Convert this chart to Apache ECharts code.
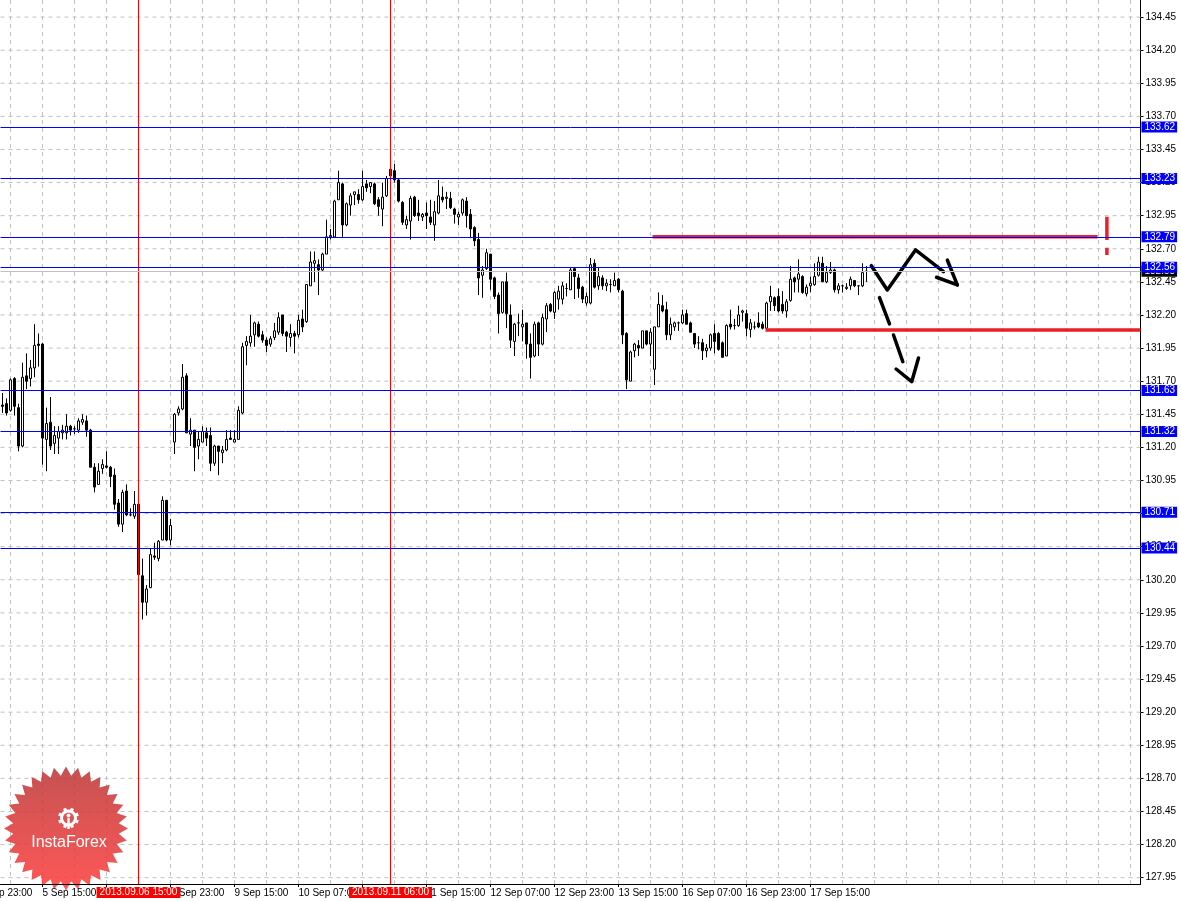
<!DOCTYPE html>
<html><head><meta charset="utf-8">
<script src="https://cdn.jsdelivr.net/npm/echarts@6/dist/echarts.min.js"></script>
<style>html,body{margin:0;padding:0;background:#fff}#c{width:1181px;height:901px}</style>
</head><body><div id="c"></div>
<script>
// ---- DATA (EUR/JPY H1) ----
const opens = [
131.52,131.53,131.48,131.72,131.50,131.21,131.74,131.72,131.80,131.98,
131.98,131.26,131.39,131.23,131.27,131.31,131.31,131.36,131.34,131.33,
131.39,131.40,131.33,131.05,130.92,131.04,131.06,131.05,130.99,130.78,
130.62,130.87,130.69,130.68,130.77,130.23,130.03,130.14,130.38,130.36,
130.50,130.80,130.50,131.24,131.46,131.49,131.74,131.30,131.33,131.21,
131.24,131.31,131.29,131.08,131.21,131.16,131.18,131.27,131.24,131.26,
131.46,131.97,131.99,132.05,132.13,132.05,132.01,131.98,132.03,132.07,
132.20,132.07,132.03,132.06,132.05,132.17,132.15,132.42,132.59,132.58,
132.54,132.66,132.79,132.79,133.07,133.19,132.88,133.03,133.11,133.11,
133.07,133.19,133.17,133.19,133.07,133.00,133.10,133.30,133.29,133.22,
133.05,132.88,132.91,133.09,132.97,132.94,132.97,132.94,132.88,132.97,
133.09,133.08,133.08,133.00,132.94,132.97,133.06,132.96,132.86,132.77,
132.50,132.55,132.66,132.48,132.35,132.22,132.45,132.20,132.00,132.14,
132.11,132.14,131.98,131.89,132.14,131.98,132.17,132.28,132.22,132.32,
132.32,132.40,132.39,132.55,132.48,132.41,132.29,132.29,132.59,132.42,
132.48,132.42,132.43,132.42,132.47,132.38,132.06,131.70,131.93,131.97,
131.95,132.08,131.98,131.79,132.11,132.27,132.24,132.05,132.11,132.14,
132.14,132.21,132.14,132.06,131.99,131.99,131.93,131.95,132.06,132.06,
131.99,131.89,132.13,132.12,132.12,132.22,132.21,132.09,132.11,132.14,
132.13,132.10,132.30,132.33,132.34,132.28,132.23,132.31,132.48,132.47,
132.49,132.36,132.42,132.43,132.50,132.59,132.45,132.52,132.54,132.39,
132.42,132.40,132.42,132.46,132.42,132.42,132.53];
const highs = [
131.61,131.57,131.72,131.73,131.53,131.84,131.91,131.86,132.13,132.06,
131.99,131.50,131.58,131.36,131.36,131.37,131.45,131.37,131.36,131.42,
131.45,131.44,131.34,131.08,131.08,131.11,131.17,131.06,131.04,130.81,
130.88,130.92,130.74,130.87,130.78,130.36,130.16,130.44,130.48,130.50,
130.83,130.80,130.66,131.46,131.51,131.83,131.76,131.42,131.33,131.32,
131.36,131.35,131.35,131.22,131.21,131.21,131.33,131.33,131.33,131.51,
131.99,132.04,132.20,132.15,132.15,132.08,132.03,132.04,132.14,132.22,
132.20,132.08,132.13,132.08,132.20,132.24,132.43,132.68,132.68,132.62,
132.67,132.92,132.85,133.07,133.29,133.20,133.05,133.12,133.13,133.15,
133.29,133.22,133.20,133.20,133.09,133.20,133.25,133.35,133.34,133.23,
133.06,132.95,133.10,133.10,133.07,132.97,133.05,133.07,133.06,133.22,
133.17,133.13,133.13,133.01,132.98,133.08,133.09,133.00,132.87,132.82,
132.57,132.70,132.66,132.49,132.37,132.45,132.52,132.28,132.14,132.21,
132.24,132.14,132.06,132.15,132.15,132.21,132.29,132.29,132.38,132.42,
132.45,132.44,132.56,132.56,132.51,132.42,132.37,132.63,132.62,132.56,
132.50,132.47,132.47,132.52,132.48,132.39,132.07,131.93,131.99,132.01,
132.08,132.08,132.10,132.11,132.37,132.35,132.30,132.18,132.15,132.15,
132.24,132.24,132.15,132.06,132.04,132.02,131.98,132.06,132.13,132.07,
132.00,132.13,132.24,132.17,132.27,132.24,132.24,132.17,132.15,132.22,
132.15,132.30,132.42,132.34,132.40,132.38,132.32,132.57,132.49,132.62,
132.50,132.43,132.49,132.59,132.64,132.64,132.57,132.60,132.55,132.44,
132.43,132.44,132.49,132.46,132.42,132.59,132.57];
const lows = [
131.46,131.44,131.47,131.44,131.17,131.20,131.64,131.66,131.73,131.81,
131.07,131.02,131.18,131.15,131.15,131.26,131.26,131.29,131.30,131.31,
131.37,131.28,131.05,130.86,130.92,131.00,131.04,130.90,130.73,130.60,
130.56,130.68,130.68,130.66,130.24,129.90,129.93,130.14,130.35,130.34,
130.50,130.49,130.46,131.15,131.44,131.48,131.31,131.21,131.02,131.11,
131.24,131.21,131.02,131.06,130.99,131.08,131.17,131.26,131.24,131.26,
131.45,131.82,131.96,131.96,132.03,131.99,131.92,131.96,132.01,132.05,
132.04,131.92,131.96,131.91,132.03,132.07,132.14,132.42,132.45,132.35,
132.53,132.66,132.77,132.79,133.07,132.79,132.87,132.95,133.03,133.04,
133.06,133.13,133.12,133.03,132.95,132.87,133.09,133.24,133.20,133.05,
132.88,132.85,132.77,132.94,132.91,132.91,132.85,132.88,132.76,132.96,
133.05,133.00,133.00,132.89,132.88,132.95,132.86,132.78,132.72,132.35,
132.33,132.54,132.39,132.32,132.06,132.21,132.10,131.95,131.89,132.04,
132.00,131.87,131.72,131.88,131.89,131.97,132.07,132.22,132.17,132.24,
132.28,132.34,132.39,132.32,132.33,132.29,132.27,132.28,132.40,132.39,
132.39,132.38,132.37,132.42,132.37,131.98,131.64,131.70,131.88,131.89,
131.95,131.97,131.89,131.67,132.11,132.22,132.01,132.01,132.08,132.08,
132.13,132.13,132.07,131.95,131.94,131.86,131.88,131.93,131.91,131.93,
131.88,131.89,132.09,132.09,132.11,132.15,132.04,132.03,132.09,132.10,
132.09,132.09,132.23,132.23,132.22,132.21,132.18,132.30,132.37,132.37,
132.36,132.34,132.37,132.42,132.49,132.45,132.44,132.51,132.37,132.36,
132.37,132.39,132.39,132.41,132.35,132.41,132.45];
const closes = [
131.51,131.46,131.71,131.51,131.21,131.73,131.70,131.80,131.97,131.97,
131.27,131.38,131.21,131.29,131.32,131.33,131.36,131.33,131.34,131.40,
131.41,131.33,131.05,130.90,131.02,131.07,131.05,130.98,130.77,130.62,
130.86,130.69,130.69,130.77,130.24,130.03,130.13,130.39,130.37,130.49,
130.80,130.50,130.61,131.45,131.49,131.73,131.31,131.33,131.20,131.26,
131.32,131.27,131.08,131.21,131.17,131.18,131.26,131.26,131.26,131.48,
131.96,132.00,132.04,132.14,132.04,132.01,131.97,132.02,132.08,132.18,
132.06,132.04,132.06,132.04,132.16,132.11,132.43,132.60,132.61,132.54,
132.66,132.79,132.80,133.06,133.20,132.88,133.04,133.10,133.13,133.07,
133.17,133.16,133.20,133.04,133.02,133.09,133.23,133.25,133.22,133.06,
132.90,132.92,133.08,132.95,132.95,132.96,132.95,132.90,132.98,133.10,
133.07,133.09,133.01,132.96,132.96,133.07,132.95,132.85,132.76,132.48,
132.54,132.67,132.47,132.34,132.21,132.45,132.21,132.01,132.13,132.14,
132.13,131.98,131.88,132.13,131.98,132.18,132.27,132.23,132.37,132.38,
132.42,132.40,132.54,132.49,132.40,132.32,132.34,132.58,132.41,132.49,
132.42,132.44,132.43,132.46,132.39,132.05,131.71,131.92,131.98,131.95,
132.08,131.98,132.07,132.11,132.28,132.23,132.05,132.13,132.14,132.14,
132.20,132.13,132.07,131.98,131.99,131.93,131.95,132.05,132.00,131.94,
131.88,132.12,132.11,132.12,132.20,132.23,132.10,132.14,132.11,132.11,
132.10,132.29,132.34,132.27,132.23,132.23,132.30,132.47,132.45,132.51,
132.37,132.41,132.44,132.49,132.60,132.45,132.52,132.54,132.39,132.42,
132.42,132.41,132.47,132.42,132.42,132.52,132.53];

// horizontal levels (blue) and bid
const levels = [133.62, 133.23, 132.79, 132.56, 131.63, 131.32, 130.71, 130.44];
const bidPrice = 132.53;
// vertical markers (bar index and label)
const vMarkers = [{idx: 34, label: '2013.09.06 15:00'}, {idx: 97, label: '2013.09.11 06:00'}];
// tick labels
const xTickLabels = ['5 Sep 15:00','6 Sep 07:00','6 Sep 23:00','9 Sep 15:00','10 Sep 07:00','10 Sep 23:00',
  '11 Sep 15:00','12 Sep 07:00','12 Sep 23:00','13 Sep 15:00','16 Sep 07:00','16 Sep 23:00','17 Sep 15:00'];
const yTickValues = [127.95,128.20,128.45,128.70,128.95,129.20,129.45,129.70,129.95,130.20,130.45,130.70,
  130.95,131.20,131.45,131.70,131.95,132.20,132.45,132.70,132.95,133.20,133.45,133.70,133.95,134.20,134.45];
// drawn annotations (x = bar index, y = price)
const redSegments = [
  [[162.5,132.79],[273.75,132.79]],
  [[190.75,132.087],[284.5,132.087]],
  [[276.1,132.942],[276.1,132.766]],
  [[276.1,132.708],[276.1,132.653]]
];
const blackStrokes = [
  [[217.2,132.572],[221.2,132.389],[228.25,132.691],[235.25,132.527]],
  [[236.2,132.615],[238.7,132.427]],
  [[233.5,132.485],[238.7,132.427]],
  [[219.25,132.331],[221.75,132.132]],
  [[222.75,132.049],[225.08,131.847]],
  [[223.4,131.792],[227.3,131.696],[229.0,131.875]]
];

// ---- build ----
const FONT = "'Liberation Sans', Arial, sans-serif";
const FS = 10;
const Y_MIN = 127.902, Y_MAX = 134.579;
const TOTAL = 285;
const MONTHS = ['Jan','Feb','Mar','Apr','May','Jun','Jul','Aug','Sep','Oct','Nov','Dec'];
const categories = [];
{
  let t = Date.UTC(2013, 8, 5, 5);
  while (categories.length < TOTAL) {
    const d = new Date(t);
    const wd = d.getUTCDay();
    if (wd !== 0 && wd !== 6) categories.push(d.getUTCDate() + ' ' + MONTHS[d.getUTCMonth()] + ' ' + String(d.getUTCHours()).padStart(2, '0') + ':00');
    t += 3600000;
  }
}
const X_LO = -0.5, X_HI = TOTAL - 0.5;
const candleData = opens.map((o, i) => [o, closes[i], lows[i], highs[i]]);
const isTick = (i, v) => xTickLabels.indexOf(v) >= 0;

// grid lines drawn through the axes' scales (vertical every 8 bars, horizontal at tick values)
const vGridData = [];
for (let i = 2; i < TOTAL; i += 8) { vGridData.push([i, Y_MIN], [i, Y_MAX], [i, '-']); }
const hGridData = [];
yTickValues.forEach(v => { hGridData.push([X_LO, v], [X_HI, v], [X_HI, '-']); });
const gridStyle = {color: '#c0c0c0', type: [4, 4], width: 1};

const lineSeries = (data, style, z) => ({type: 'line', xAxisIndex: 1, yAxisIndex: 0, data: data, symbol: 'none', silent: true,
  z: z, lineStyle: style, connectNulls: false, animation: false});

const boxLabel = (txt, bg) => ({show: true, position: 'end', distance: 1, formatter: () => txt, color: '#fff', backgroundColor: bg,
  fontSize: FS, fontFamily: FONT, padding: [0, 2, 0, 3], lineHeight: 11});

const series = [
  lineSeries(vGridData, gridStyle, 1),
  lineSeries(hGridData, gridStyle, 1),
  {
    type: 'candlestick', name: 'EURJPY', data: candleData, barWidth: 2,
    itemStyle: {color: '#ffffff', color0: '#000000', borderColor: '#000000', borderColor0: '#000000', borderWidth: 1},
    silent: true, z: 2,
    markLine: {
      silent: true, symbol: ['none', 'none'], animation: false,
      data: [
        {yAxis: bidPrice, lineStyle: {color: '#c0c0c0', width: 1, type: 'solid'}, label: boxLabel(bidPrice.toFixed(2), '#000')},
        ...levels.map(v => ({yAxis: v, lineStyle: {color: '#0000ff', width: 1, type: 'solid'}, label: boxLabel(v.toFixed(2), '#0000ff')}))
      ]
    }
  },
  ...vMarkers.map(m => lineSeries([[m.idx, Y_MIN], [m.idx, Y_MAX]], {color: '#ff0000', width: 1}, 3)),
  ...redSegments.map(seg => lineSeries(seg, {color: '#ea1f27', width: 3.5, cap: 'butt'}, 4)),
  ...blackStrokes.map(seg => lineSeries(seg, {color: '#000000', width: 3.5, cap: 'round', join: 'round'}, 4))
];

const chart = echarts.init(document.getElementById('c'), null, {renderer: 'canvas'});
const option = {
  animation: false,
  backgroundColor: '#ffffff',
  grid: {left: 0.5, right: 40.5, top: 0, bottom: 17, containLabel: false, outerBoundsMode: 'none'},
  xAxis: [
    {type: 'category', data: categories, boundaryGap: true, z: 10,
     axisLine: {show: true, onZero: false, lineStyle: {color: '#000', width: 1}},
     axisTick: {show: true, alignWithLabel: true, length: 3, interval: isTick, lineStyle: {color: '#000'}},
     axisLabel: {show: true, interval: isTick, align: 'left', margin: 4, color: '#000', fontSize: FS, fontFamily: FONT,
                 showMinLabel: true, showMaxLabel: true, hideOverlap: false},
     splitLine: {show: false}},
    {type: 'value', min: X_LO, max: X_HI, position: 'top', show: false,
     axisLine: {show: false}, axisTick: {show: false}, axisLabel: {show: false}, splitLine: {show: false}}
  ],
  yAxis: [
    {type: 'value', position: 'right', min: Y_MIN, max: Y_MAX,
     axisLine: {show: true, onZero: false, lineStyle: {color: '#000', width: 1}},
     axisTick: {show: true, inside: false, length: 3, customValues: yTickValues, lineStyle: {color: '#000'}},
     axisLabel: {show: true, customValues: yTickValues, formatter: v => v.toFixed(2), margin: 5, color: '#000', fontSize: FS, fontFamily: FONT},
     splitLine: {show: false}}
  ],
  series: series
};
chart.setOption(option);

// ---- logo, marker labels & off-axis label ----
const cx = 66, cy = 828.5;
const star = [];
for (let k = 0; k < 64; k++) {
  const a = -Math.PI / 2 + k * Math.PI / 32;
  const r = (k % 2 === 0) ? 62 : 53;
  star.push([cx + r * Math.cos(a), cy + r * Math.sin(a)]);
}
const gx = 68.5, gy = 818;
const teeth = [];
for (let j = 0; j < 8; j++) {
  const a = j * Math.PI / 4 + Math.PI / 8;
  teeth.push({type: 'line', z: 6, shape: {x1: gx + 6 * Math.cos(a), y1: gy + 6 * Math.sin(a), x2: gx + 10.5 * Math.cos(a), y2: gy + 10.5 * Math.sin(a)},
    style: {stroke: '#fff', lineWidth: 3.2}});
}
const axisY = chart.convertToPixel({yAxisIndex: 0}, Y_MIN);
const fontStr = FS + 'px ' + FONT;
const markerLabels = vMarkers.map(m => ({
  type: 'text', z: 12,
  style: {x: chart.convertToPixel({xAxisIndex: 1}, m.idx), y: axisY + 3, text: m.label, fill: '#fff', font: fontStr,
          align: 'center', verticalAlign: 'top', backgroundColor: '#ff0000', padding: [0, 3, 0, 3], lineHeight: 11}
}));
chart.setOption({
  graphic: [
    {type: 'polygon', z: 5, shape: {points: star},
     style: {fill: new echarts.graphic.LinearGradient(0, 0, 0, 1, [{offset: 0, color: '#bd3a3a'}, {offset: 1, color: '#ff4040'}]), opacity: 0.88}},
    {type: 'ring', z: 6, shape: {cx: gx, cy: gy, r: 8.5, r0: 5.5}, style: {fill: '#fff'}},
    ...teeth,
    {type: 'circle', z: 7, shape: {cx: gx, cy: gy - 2.5, r: 2}, style: {fill: '#fff'}},
    {type: 'rect', z: 7, shape: {x: gx - 1.2, y: gy, width: 2.4, height: 11}, style: {fill: '#fff'}},
    {type: 'text', z: 7, style: {x: 69, y: 843, text: 'InstaForex', fill: '#fff', font: "16px 'Liberation Sans', Arial, sans-serif", align: 'center', verticalAlign: 'middle'}},
    {type: 'text', z: 11, style: {x: chart.convertToPixel({xAxisIndex: 1}, -6), y: axisY + 4, text: '4 Sep 23:00', fill: '#000', font: fontStr, align: 'left', verticalAlign: 'top'}},
    ...markerLabels
  ]
});
</script></body></html>
